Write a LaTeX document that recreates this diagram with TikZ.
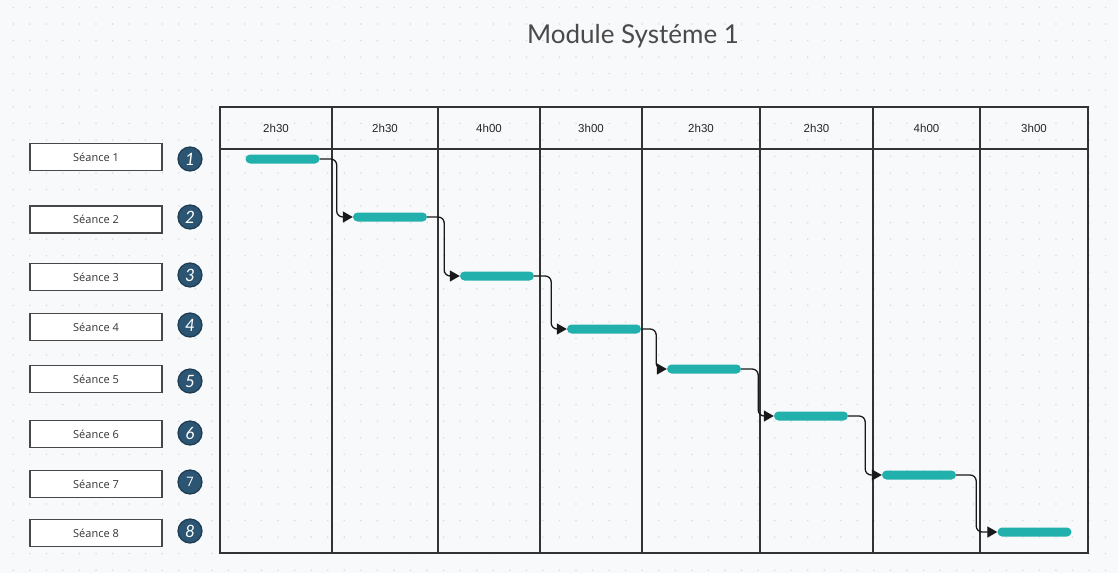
\documentclass[tikz,border=0pt]{standalone}
\usepackage{fontspec}
\setmainfont{Lato}
\newfontfamily\hdrfont{Liberation Sans}
\newfontfamily\sfont{Open Sans}
\usetikzlibrary{arrows.meta}
\definecolor{bgc}{HTML}{F8F9FB}
\definecolor{dotc}{HTML}{DADDE2}
\definecolor{teal}{HTML}{22B0AD}
\definecolor{circ}{HTML}{2B5572}
\definecolor{circb}{HTML}{1C3A50}
\definecolor{linec}{HTML}{333333}
\definecolor{titlec}{HTML}{4A4A4A}
\tikzset{
  seance/.style={draw=linec!90,line width=1.5pt,fill=white,minimum width=132pt,minimum height=27pt,inner sep=0pt,font=\sfont\fontsize{11}{13}\selectfont,text=black!80},
  numc/.style={circle,draw=circb,line width=1.2pt,fill=circ,minimum size=24pt,inner sep=0pt,text=white,font=\fontsize{17}{19}\selectfont\itshape},
  bar/.style={rectangle,rounded corners=4.5pt,fill=teal,minimum width=74pt,minimum height=9pt,inner sep=0pt},
  conn/.style={draw=black!90,line width=1.3pt,rounded corners=6pt,-{Triangle[length=10pt,width=11pt]}},
  hdr/.style={font=\hdrfont\fontsize{11.5}{13}\selectfont,text=black!85},
  grid/.style={draw=linec,line width=1.6pt}
}
\begin{document}
\begin{tikzpicture}[x=1pt,y=-1pt]
\fill[bgc] (0,0) rectangle (1118,573);
\useasboundingbox (0,0) rectangle (1118,573);
\foreach \i in {0,...,67}{
  \foreach \j in {0,...,34}{
    \fill[dotc] ({13.3+16.55*\i},{7.45+16.55*\j}) circle (0.9);
  }
}
\node[font=\fontsize{26}{30}\selectfont,text=titlec] (title) at (633,36) {Module Systéme 1};
% table
\draw[grid] (220,107) rectangle (1088,553);
\draw[grid] (220,149) -- (1088,149);
\foreach \x in {332,438,540,642,760,873,980}{
  \draw[grid] (\x,107) -- (\x,553);
}
\node[hdr] (h1) at (276,128) {2h30};
\node[hdr] (h2) at (385,128) {2h30};
\node[hdr] (h3) at (489,128) {4h00};
\node[hdr] (h4) at (591,128) {3h00};
\node[hdr] (h5) at (701,128) {2h30};
\node[hdr] (h6) at (816.5,128) {2h30};
\node[hdr] (h7) at (926.5,128) {4h00};
\node[hdr] (h8) at (1034,128) {3h00};
% seance boxes
\node[seance] (s1) at (96,157) {Séance 1};
\node[seance] (s2) at (96,219.5) {Séance 2};
\node[seance] (s3) at (96,277) {Séance 3};
\node[seance] (s4) at (96,327) {Séance 4};
\node[seance] (s5) at (96,379) {Séance 5};
\node[seance] (s6) at (96,434) {Séance 6};
\node[seance] (s7) at (96,484) {Séance 7};
\node[seance] (s8) at (96,533) {Séance 8};
% circles
\node[numc] (c1) at (190,159) {1};
\node[numc] (c2) at (190,217) {2};
\node[numc] (c3) at (190,275) {3};
\node[numc] (c4) at (190,325) {4};
\node[numc] (c5) at (190,381) {5};
\node[numc] (c6) at (190,433) {6};
\node[numc,font=\sfont\fontsize{13}{15}\selectfont] (c7) at (190,482) {7};
\node[numc] (c8) at (190,531) {8};
% bars
\node[bar] (b1) at (282.5,159) {};
\node[bar] (b2) at (390,217) {};
\node[bar] (b3) at (497,276) {};
\node[bar] (b4) at (604,329) {};
\node[bar] (b5) at (704,369) {};
\node[bar] (b6) at (811,416) {};
\node[bar] (b7) at (919,475) {};
\node[bar] (b8) at (1034.5,532) {};
% connectors
\draw[conn] (b1.east) -- ++(17,0) |- (b2.west);
\draw[conn] (b2.east) -- ++(17,0) |- (b3.west);
\draw[conn] (b3.east) -- ++(17,0) |- (b4.west);
\draw[conn] (b4.east) -- ++(15,0) |- (b5.west);
\draw[conn] (b5.east) -- ++(17,0) |- (b6.west);
\draw[conn] (b6.east) -- ++(17,0) |- (b7.west);
\draw[conn] (b7.east) -- ++(20,0) |- (b8.west);
\end{tikzpicture}
\end{document}
